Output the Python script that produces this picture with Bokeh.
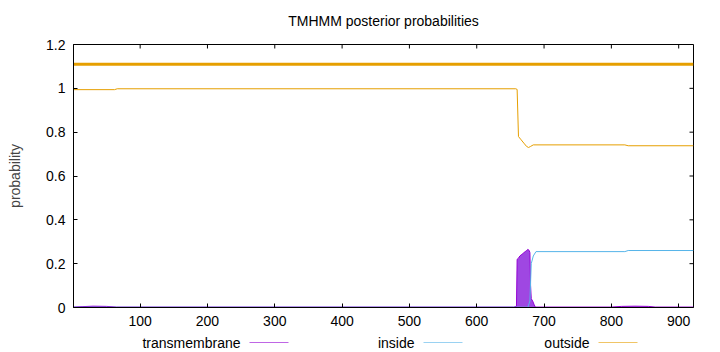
from bokeh.plotting import figure
from bokeh.models import Range1d, FixedTicker, CustomJSTickFormatter
from bokeh.layouts import column
from bokeh.embed import file_html
from bokeh.resources import INLINE
from bokeh.core.properties import value

FONT = "Liberation Sans"
FS = "14px"

title_text = "TMHMM posterior probabilities"
y_label = "probability"
x_ticks = [100, 200, 300, 400, 500, 600, 700, 800, 900]
y_ticks = [0, 0.2, 0.4, 0.6, 0.8, 1.0, 1.2]
seq_len = 922
legend_labels = ["transmembrane", "inside", "outside"]

# predicted topology (whole sequence outside)
topo_pos = [1, 922]
topo_val = [1.11, 1.11]

# outside probability (vertices)
out_pos = [1, 62, 66, 658, 660, 662, 666, 670, 674, 677, 680, 684, 820, 825, 922]
out_val = [0.994, 0.994, 0.998, 0.998, 0.995, 0.78, 0.765, 0.75, 0.735, 0.73, 0.735, 0.742, 0.742, 0.738, 0.738]

# inside probability
in_pos = [1, 676, 679, 681, 684, 688, 820, 825, 922]
in_val = [0.001, 0.001, 0.03, 0.2, 0.235, 0.255, 0.255, 0.26, 0.26]

# transmembrane probability
tm_pos = [1, 15, 30, 50, 65, 655, 659, 660, 662, 664, 666, 668, 670, 672, 674, 676, 678, 679,
          680, 681, 683, 685, 687, 800, 815, 835, 855, 865, 922]
tm_val = [0.002, 0.004, 0.006, 0.005, 0.002, 0.002, 0.005, 0.22, 0.225, 0.235, 0.24, 0.245, 0.25,
          0.255, 0.26, 0.265, 0.26, 0.25, 0.1, 0.04, 0.03, 0.015, 0.002, 0.002, 0.005, 0.006,
          0.005, 0.002, 0.002]

C_TM = "#9400d3"
C_IN = "#56b4e9"
C_OUT = "#e69f00"

W = 720
HEAD_H = 38
LEG_H = 18
MAIN_H = 352 - HEAD_H - LEG_H
FRAME_L, FRAME_R = 73, 693

# ---- header with title (frame aligned with main plot, so x in pixels) ----
head = figure(width=W, height=HEAD_H, x_range=Range1d(FRAME_L, FRAME_R), y_range=Range1d(0, HEAD_H),
              output_backend="svg", toolbar_location=None,
              min_border_left=FRAME_L, min_border_right=W - FRAME_R, min_border_top=0, min_border_bottom=0)
head.axis.visible = False
head.grid.visible = False
head.outline_line_color = None
head.text(x=[(FRAME_L + FRAME_R) / 2], y=[HEAD_H - 20], text=[title_text], text_font=value(FONT),
          text_font_size=FS, text_align="center", text_baseline="middle", text_color="black")

# ---- main plot ----
p = figure(width=W, height=MAIN_H, x_range=Range1d(1, seq_len), y_range=Range1d(0, 1.2),
           output_backend="svg", toolbar_location=None,
           min_border_left=FRAME_L, min_border_right=W - FRAME_R, min_border_top=6, min_border_bottom=27)
p.grid.visible = False
p.outline_line_color = "black"

p.varea(x=tm_pos, y1=[0] * len(tm_pos), y2=tm_val, fill_color="#9a3de0", fill_alpha=0.95)
p.line(tm_pos, tm_val, line_color=C_TM, line_width=1)
p.line(in_pos, in_val, line_color=C_IN, line_width=1)
p.line(out_pos, out_val, line_color=C_OUT, line_width=1)
p.line(topo_pos, topo_val, line_color=C_OUT, line_width=3)

fmt = CustomJSTickFormatter(code="return Number(tick.toFixed(1)).toString();")

for ax in p.xaxis:
    ax.ticker = FixedTicker(ticks=x_ticks)
for ax in p.yaxis:
    ax.ticker = FixedTicker(ticks=y_ticks)
    ax.formatter = fmt
    ax.axis_label = y_label
    ax.axis_label_text_font = FONT
    ax.axis_label_text_font_size = FS
    ax.axis_label_text_font_style = "normal"
    ax.axis_label_standoff = 20

for ax in p.xaxis + p.yaxis:
    ax.major_label_text_font = FONT
    ax.major_label_text_font_size = FS
    ax.major_label_text_color = "black"
    ax.major_tick_in = 4
    ax.major_tick_out = 0
    ax.minor_tick_line_color = None
    ax.axis_line_color = "black"
    ax.major_tick_line_color = "black"
    ax.major_label_standoff = 8

# mirrored ticks on top and right border (4 px long, pointing inward)
tick_y_len = 4 * 1.2 / 263
tick_x_len = 4 * (seq_len - 1) / 620
p.segment(x0=x_ticks, y0=[1.2] * len(x_ticks), x1=x_ticks, y1=[1.2 - tick_y_len] * len(x_ticks),
          line_color="black", line_width=1)
p.segment(x0=[seq_len] * len(y_ticks), y0=y_ticks, x1=[seq_len - tick_x_len] * len(y_ticks), y1=y_ticks,
          line_color="black", line_width=1)

# ---- legend below (frame aligned with main plot, so x in pixels) ----
leg = figure(width=W, height=LEG_H, x_range=Range1d(FRAME_L, FRAME_R), y_range=Range1d(0, LEG_H),
             output_backend="svg", toolbar_location=None,
             min_border_left=FRAME_L, min_border_right=W - FRAME_R, min_border_top=0, min_border_bottom=0)
leg.axis.visible = False
leg.grid.visible = False
leg.outline_line_color = None
leg_text_x = [240, 414, 589]
leg_colors = [C_TM, C_IN, C_OUT]
ly = LEG_H - 8
leg.text(x=leg_text_x, y=[ly] * 3, text=legend_labels, text_font=value(FONT),
         text_font_size=FS, text_align="right", text_baseline="middle", text_color="black")
leg.segment(x0=[x + 9 for x in leg_text_x], y0=[ly] * 3, x1=[x + 48 for x in leg_text_x],
            y1=[ly] * 3, line_color=leg_colors, line_width=1, line_alpha=0.6)

layout = column(head, p, leg, spacing=0)
open("out.html", "w").write(file_html(layout, INLINE))
